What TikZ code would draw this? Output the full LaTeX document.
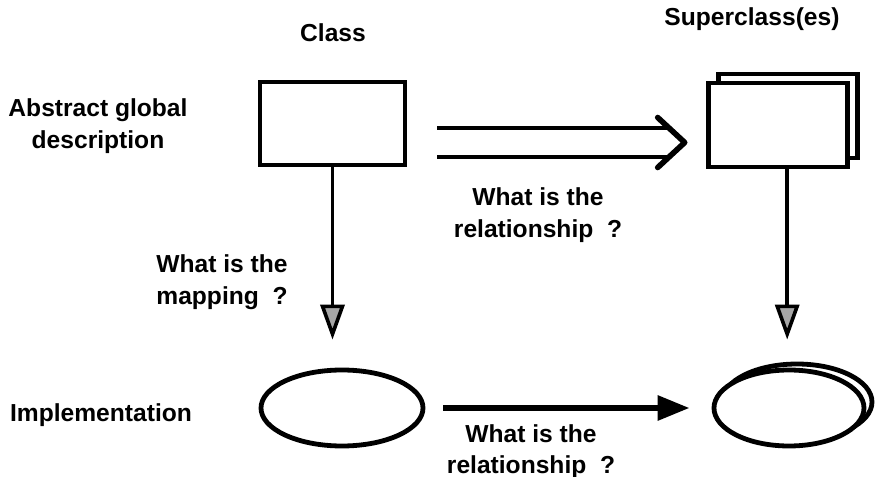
\documentclass[tikz,border=0pt]{standalone}
\usepackage{fontspec}
\setmainfont{Liberation Sans}
\usetikzlibrary{arrows.meta, shapes.geometric, shadows}
\tikzset{
    every node/.style={font=\bfseries\fontsize{17.5}{22.5}\selectfont, align=center},
    box/.style={draw, rectangle, line width=0.12cm, minimum width=3.625cm,
    	minimum height=2.075cm, fill=white},
    impl/.style={draw, ellipse, line width=0.12cm, minimum width=4.05cm,
    	minimum height=1.9cm, fill=white},
    maparrow/.style={line width=0.09cm,
    	-{Triangle[length=0.875cm, width=0.6cm, fill=gray!70]}},
    relarrow/.style={line width=0.15cm, -{Triangle[length=0.8cm, width=0.6cm]}},
    chevron/.style={line width=0.14cm, line cap=round, line join=round}
}

\begin{document}
\begin{tikzpicture}
  \useasboundingbox (0cm, 0cm) rectangle (21.9cm, -11.925cm);

  \node (clslbl) at (8.325cm, -0.825cm) {Class};
  \node (suplbl) at (18.8cm, -0.475cm) {Superclass(es)};
  \node (abstr) at (2.45cm, -3.16cm) {Abstract global\\description};
  \node (implem) at (2.525cm, -10.375cm) {Implementation};

  \node (cls) [box] at (8.3125cm, -3.0875cm) {};
  \node (sup) [box, minimum width=3.475cm, minimum height=2.1cm,
  	copy shadow={shadow xshift=0.25cm, shadow yshift=0.225cm}]
  	at (19.44cm, -3.125cm) {};
  \node (clsimpl) [impl] at (8.55cm, -10.2cm) {};
  \node (supimpl) [impl, minimum width=3.75cm,
  	copy shadow={shadow xshift=0.2cm, shadow yshift=0.15cm}]
  	at (19.725cm, -10.2cm) {};

  \node (relup) at (13.45cm, -5.375cm) {What is the\\relationship\ \ ?};
  \node (mapping) at (5.55cm, -7.05cm) {What is the\\mapping\ \ ?};
  \node (reldown) at (13.275cm, -11.29cm) {What is the\\relationship\ \ ?};

  % double arrow with an open chevron head
  \coordinate (relstart) at ([yshift=-0.475cm]cls.east);
  \coordinate (reltip) at ([xshift=-0.525cm]relstart -| sup.west);
  \draw [line width=0.11cm, double distance=0.62cm, shorten <=0.75cm]
  	(relstart) -- ([xshift=-0.35cm]reltip);
  \draw [chevron] ([shift={(-0.675cm, 0.625cm)}]reltip) -- (reltip)
  	-- ([shift={(-0.675cm, -0.625cm)}]reltip);

  \draw [maparrow, shorten >=0.7cm] (cls.south) -- (cls.south |- clsimpl.north);
  \draw [maparrow, shorten >=0.7cm]
  	([xshift=0.24cm]sup.south) -- ([xshift=0.24cm]sup.south |- supimpl.north);
  \draw [relarrow, shorten <=0.45cm, shorten >=0.55cm]
  	(clsimpl.east) -- (clsimpl.east -| supimpl.west);
\end{tikzpicture}
\end{document}
